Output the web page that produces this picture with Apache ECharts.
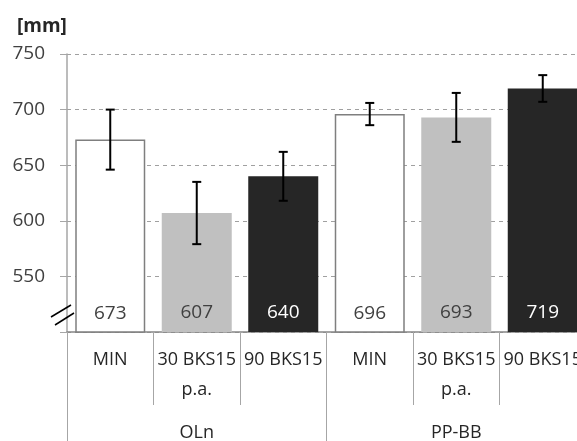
<!DOCTYPE html>
<html>
<head>
<meta charset="utf-8">
<script src="https://cdn.jsdelivr.net/npm/echarts@6/dist/echarts.min.js"></script>
<style>html,body{margin:0;padding:0;background:#fff;}#c{width:577px;height:441px;}</style>
</head>
<body>
<div id="c"></div>
<script>
const categories = ['MIN', '30 BKS15\np.a.', '90 BKS15', 'MIN', '30 BKS15\np.a.', '90 BKS15'];
const groups = ['OLn', 'PP-BB'];
const means = [673, 607, 640, 696, 693, 719];
const errors = [27, 28, 22, 10, 22, 12];
const yMin = 500, yMax = 750, yStep = 50;

const fills = ['#ffffff', '#c0c0c0', '#262626', '#ffffff', '#c0c0c0', '#262626'];
const borders = ['#7f7f7f', null, null, '#7f7f7f', null, null];
const labelColors = ['#404040', '#404040', '#ffffff', '#404040', '#404040', '#ffffff'];
const FONT = 'Open Sans';

const chart = echarts.init(document.getElementById('c'));
const barData = means.map((v, i) => ({
  value: v,
  itemStyle: { color: fills[i], borderColor: borders[i] || fills[i], borderWidth: borders[i] ? 1.5 : 0 },
  label: { color: labelColors[i] }
}));
const errData = means.map((v, i) => [i, v - errors[i], v + errors[i]]);

chart.setOption({
  animation: false,
  backgroundColor: '#fff',
  title: { text: '[mm]', left: 12, top: 12, textStyle: { fontFamily: FONT, fontSize: 19, fontWeight: 'bold', color: '#262626' } },
  grid: { left: 67, top: 54, width: 519, height: 278, containLabel: false, outerBoundsMode: 'none' },
  xAxis: [
    {
      type: 'category', data: categories, position: 'bottom',
      axisLine: { show: true, lineStyle: { color: '#868686', width: 1.5 } },
      axisTick: { show: true, interval: 0, alignWithLabel: false, length: 73, lineStyle: { color: '#a6a6a6' } },
      axisLabel: { interval: 0, margin: 13, lineHeight: 30, fontFamily: FONT, fontSize: 18, color: '#262626' }
    },
    {
      type: 'category', data: groups, position: 'bottom',
      axisLine: { show: false },
      axisTick: { show: true, interval: 0, alignWithLabel: false, length: 115, lineStyle: { color: '#a6a6a6' } },
      axisLabel: { interval: 0, margin: 91, lineHeight: 20, fontFamily: FONT, fontSize: 18, color: '#262626' }
    }
  ],
  yAxis: {
    type: 'value', min: yMin, max: yMax, interval: yStep,
    axisLine: { show: true, lineStyle: { color: '#a6a6a6', width: 1.5 } },
    axisTick: { show: true, length: 7, lineStyle: { color: '#a6a6a6' } },
    axisLabel: { margin: 22, fontFamily: FONT, fontSize: 19, color: '#404040', formatter: v => v === yMin ? '' : String(v) },
    splitLine: { show: true, lineStyle: { color: '#a0a0a0', type: [4, 4], width: 1 } }
  },
  series: [
    {
      type: 'bar', data: barData, barWidth: 70, xAxisIndex: 0,
      label: { show: true, position: 'insideBottom', distance: 10, fontFamily: FONT, fontSize: 19 }
    },
    {
      type: 'custom', xAxisIndex: 0, data: errData, z: 10,
      encode: { x: 0, y: [1, 2] },
      renderItem: function (params, api) {
        const lo = api.coord([api.value(0), api.value(1)]);
        const hi = api.coord([api.value(0), api.value(2)]);
        const w = 4.5;
        const st = { stroke: '#000', lineWidth: 2 };
        return {
          type: 'group', children: [
            { type: 'line', shape: { x1: lo[0], y1: lo[1], x2: hi[0], y2: hi[1] }, style: st },
            { type: 'line', shape: { x1: lo[0] - w, y1: lo[1], x2: lo[0] + w, y2: lo[1] }, style: st },
            { type: 'line', shape: { x1: hi[0] - w, y1: hi[1], x2: hi[0] + w, y2: hi[1] }, style: st }
          ]
        };
      }
    }
  ],
  graphic: [
    { type: 'line', shape: { x1: 51, y1: 317, x2: 71, y2: 305 }, style: { stroke: '#000', lineWidth: 1.5 }, z: 100 },
    { type: 'line', shape: { x1: 55, y1: 325, x2: 74, y2: 313 }, style: { stroke: '#000', lineWidth: 1.5 }, z: 100 }
  ]
});
</script>
</body>
</html>
